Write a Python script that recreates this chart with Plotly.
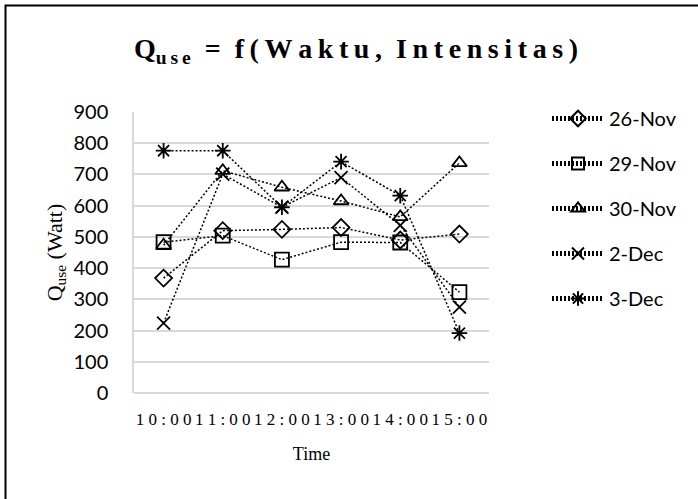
import plotly.graph_objects as go

# Hourly measurements of Q_use (Watt) on five days
times = ["10:00", "11:00", "12:00", "13:00", "14:00", "15:00"]
q_26nov = [368, 520, 524, 530, 490, 509]
q_29nov = [483, 504, 427, 483, 482, 323]
q_30nov = [473, 712, 659, 615, 564, 737]
q_2dec = [224, 701, 595, 690, 537, 275]
q_3dec = [776, 776, 595, 741, 632, 192]
day_labels = ["26-Nov", "29-Nov", "30-Nov", "2-Dec", "3-Dec"]
y_ticks = list(range(0, 1000, 100))

series = [q_26nov, q_29nov, q_30nov, q_2dec, q_3dec]
symbols = ["diamond-open", "square-open", "triangle-up-open", "x-thin-open", "asterisk-open"]
sizes = [13, 14, 13, 13, 13]

# plot-area geometry in pixels, used to place the frame and the legend
W, H = 698, 499
L, R, T, B = 134, 489, 112, 393
pw, ph = R - L, B - T


def px_x(x):
    return (x - L) / pw


def px_y(y):
    return (B - y) / ph


fig = go.Figure()
for i, (name, vals) in enumerate(zip(day_labels, series)):
    fig.add_trace(go.Scatter(
        x=times, y=vals, name=name, mode="lines+markers",
        legendgroup=name,
        line=dict(color="black", width=1.5, dash="2px,2px"),
        marker=dict(symbol=symbols[i], size=sizes[i], color="black",
                    line=dict(color="black", width=1.8)),
    ))

spaced_ticks = [" ".join(t) for t in times]
thin = "\u2009"
word_gap = "\u2002"
title_text = ("Q<sub>" + thin.join("use") + "</sub>" + word_gap + "=" + word_gap
              + thin.join("f(Waktu,") + word_gap + thin.join("Intensitas)"))

fig.update_layout(
    width=W, height=H,
    margin=dict(l=L, r=W - R, t=T, b=H - B),
    paper_bgcolor="white", plot_bgcolor="white",
    title=dict(text=title_text, x=356 / W, xanchor="center",
               y=1 - 48 / H, yanchor="middle", yref="container",
               font=dict(family="Liberation Serif", size=28, color="black", weight="bold")),
    xaxis=dict(
        type="category", tickmode="array", tickvals=times, ticktext=spaced_ticks,
        range=[-0.5, 5.5], showgrid=False, showline=False, zeroline=False,
        ticks="", ticklabelstandoff=14,
        tickfont=dict(family="Liberation Serif", size=17, color="black"),
        title=dict(text="Time", standoff=19,
                   font=dict(family="Liberation Serif", size=18, color="black")),
    ),
    yaxis=dict(
        range=[0, 900], tickmode="array", tickvals=y_ticks,
        showgrid=True, gridcolor="#d9d9d9", gridwidth=1.5,
        showline=True, linecolor="#d9d9d9", linewidth=1.5,
        zeroline=True, zerolinecolor="#d9d9d9", zerolinewidth=1.5,
        ticks="", ticklabelstandoff=20,
        tickfont=dict(family="Lato", size=20, color="black"),
        title=dict(text="Q<sub>use</sub> (Watt)", standoff=5,
                   font=dict(family="Liberation Serif", size=22, color="black")),
    ),
    legend=dict(
        x=px_x(547), xanchor="left", y=px_y(99), yanchor="top",
        traceorder="grouped", tracegroupgap=16, itemwidth=52,
        font=dict(family="Lato", size=20, color="black"),
        bgcolor="rgba(0,0,0,0)", itemsizing="constant",
    ),
    shapes=[dict(type="rect", xref="paper", yref="paper",
                 x0=px_x(5.5), x1=px_x(705), y0=px_y(5.5), y1=px_y(510),
                 line=dict(color="black", width=2), fillcolor="rgba(0,0,0,0)",
                 layer="below")],
)

fig.write_html("out.html")
